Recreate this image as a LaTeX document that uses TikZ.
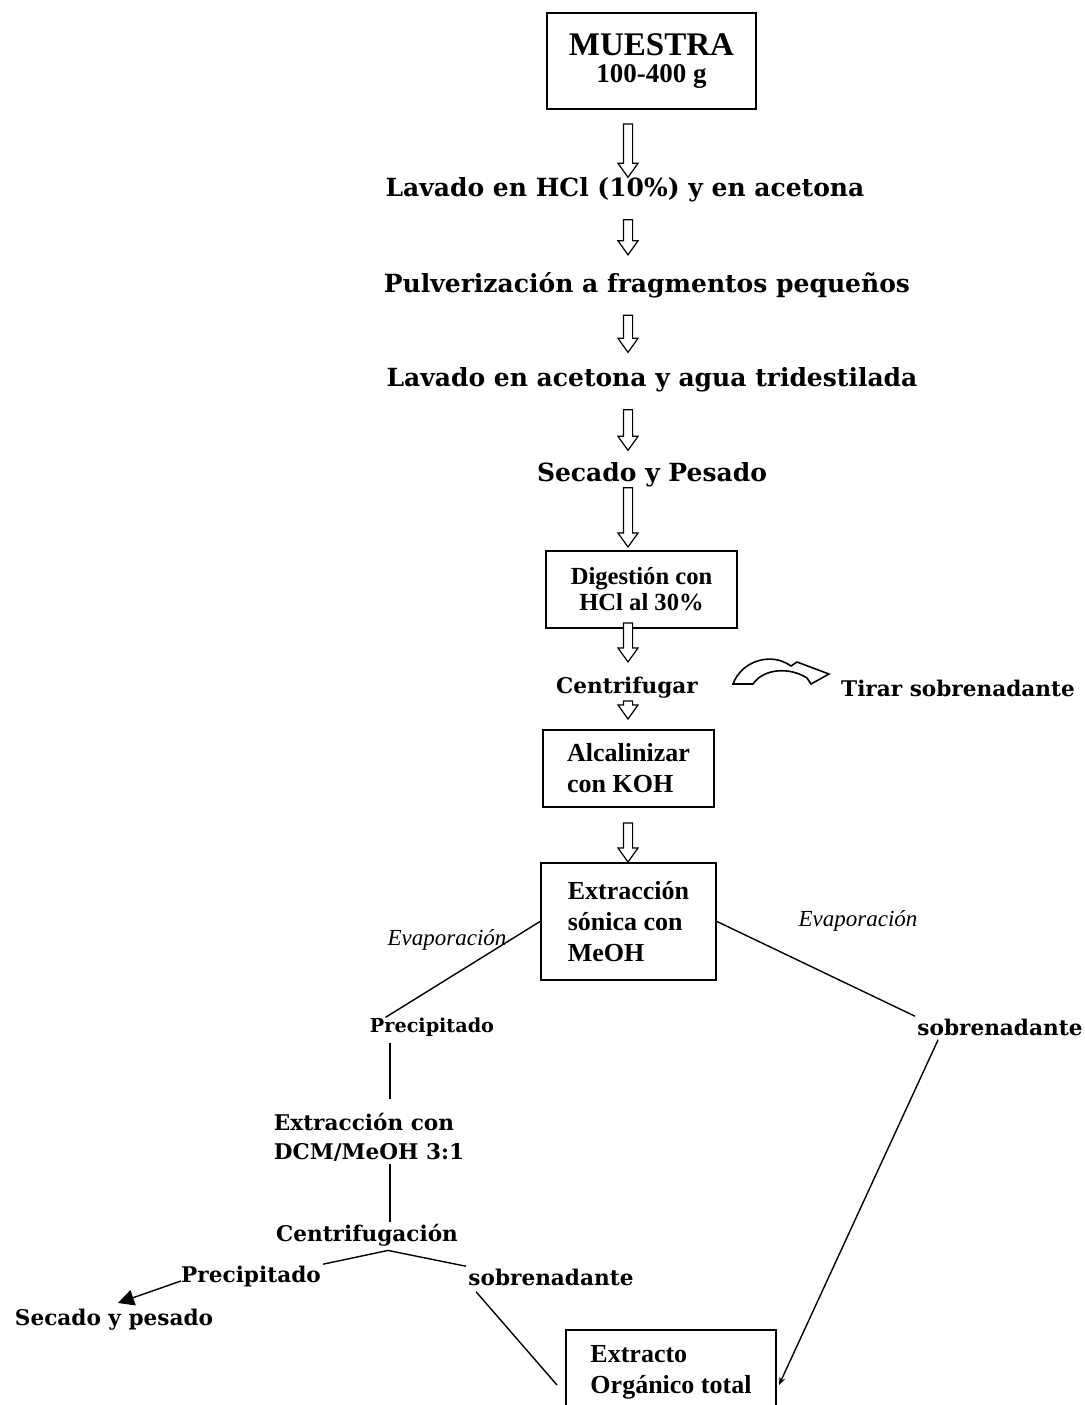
\documentclass[tikz,border=0pt]{standalone}
\usepackage{fontspec}
\setmainfont{Liberation Serif}
\newfontfamily\stepfont{DejaVu Serif}
\usetikzlibrary{calc,arrows.meta}

\tikzset{
  stage/.style={font=\stepfont\bfseries\fontsize{10.8}{14.5}\selectfont, inner sep=1pt, align=center},
  bigstage/.style={stage, font=\stepfont\bfseries\fontsize{12.5}{15}\selectfont},
  smallstage/.style={stage, font=\stepfont\bfseries\fontsize{9.6}{12}\selectfont},
  procbox/.style={draw, line width=1pt, font=\bfseries\fontsize{13}{15.5}\selectfont, align=left, inner sep=2pt},
  evap/.style={font=\itshape\fontsize{11.5}{13}\selectfont, inner sep=1pt},
  link/.style={line width=0.7pt},
  hollow/.style={draw, line width=0.6pt, fill=white, line join=miter},
}

% hollow block arrow down the main axis: from, to, gap at start, gap at end (px)
\newcommand{\blockarrow}[4]{%
  \path[hollow] let \p1=($(axis |- #1.south)+(0,#3)$), \p2=($(axis |- #2.north)-(0,#4)$) in
    (\x1-2.3pt,\y1) -- (\x1+2.3pt,\y1) -- (\x1+2.3pt,\y2+7pt) -- (\x1+5pt,\y2+7pt)
    -- (\x1,\y2) -- (\x1-5pt,\y2+7pt) -- (\x1-2.3pt,\y2+7pt) -- cycle;}

\begin{document}
\begin{tikzpicture}[x=0.5pt,y=-0.5pt]
  \useasboundingbox (0,0) rectangle (1085,1405);
  \coordinate (axis) at (628,0);
  \coordinate (trunk) at (390,0);

  % main column
  \node[procbox, align=center, minimum width=104.5pt, minimum height=48pt] (muestra) at (651.5,61)
    {{\fontsize{16.5}{18}\selectfont MUESTRA}\\[-2pt]{\fontsize{13.5}{15}\selectfont 100-400 g}};
  \node[bigstage] (lavhcl) at (625,190) {Lavado en HCl (10\%) y en acetona};
  \node[bigstage] (pulv) at (647,285) {Pulverización a fragmentos pequeños};
  \node[bigstage] (lavac) at (652,380) {Lavado en acetona y agua tridestilada};
  \node[bigstage] (secado) at (652,475) {Secado y Pesado};
  \node[procbox, align=center, minimum width=95.5pt, minimum height=38.5pt,
        font=\bfseries\fontsize{12.3}{13}\selectfont] (digest) at (641.5,589.5) {Digestión con\\HCl al 30\%};
  \node[stage] (centrif) at (627,688) {Centrifugar};
  \node[stage] (tirar) at (958,688) {Tirar sobrenadante};
  \node[procbox, minimum width=85.5pt, minimum height=38.5pt] (alcal) at (628.5,768.5) {Alcalinizar\\con KOH};
  \node[procbox, minimum width=87.5pt, minimum height=58.5pt] (sonic) at (628.5,921.5) {Extracción\\sónica con\\MeOH};

  % branches
  \node[evap] (evapl) at (447,940) {Evaporación};
  \node[evap] (evapr) at (858,921) {Evaporación};
  \node[smallstage] (precip1) at (432,1027) {Precipitado};
  \node[stage] (sobre1) at (1000,1027) {sobrenadante};
  \node[stage, align=left] (dcm) at (369,1137) {Extracción con\\DCM/MeOH 3:1};
  \node[stage] (centrifug) at (367,1235) {Centrifugación};
  \node[stage] (precip2) at (251,1277) {Precipitado};
  \node[stage] (sobre2) at (551,1277) {sobrenadante};
  \node[stage] (secado2) at (114,1320) {Secado y pesado};
  \node[procbox, minimum width=105pt, minimum height=42pt] (total) at (671,1372) {Extracto\\Orgánico total};

  \blockarrow{muestra}{lavhcl}{14}{-2}
  \blockarrow{lavhcl}{pulv}{15}{15}
  \blockarrow{pulv}{lavac}{15}{13}
  \blockarrow{lavac}{secado}{15}{10}
  \blockarrow{secado}{digest}{-2}{3}
  \blockarrow{digest}{centrif}{-6}{13}
  \blockarrow{centrif}{alcal}{0}{10}
  \blockarrow{alcal}{sonic}{15}{0}

  % discard arrow
  \path[hollow, line width=0.8pt] (733,684) .. controls (742,660) and (772,652) .. (791,666) -- (797,662)
    -- (829,674) -- (811,684) -- (807,678) .. controls (790,667) and (764,668) .. (753,684) -- cycle;

  \coordinate (fork) at ($(centrifug.south)+(21,2)$);
  \draw[link] (sonic.west) -- ($(precip1.north west)+(18,2)$);
  \draw[link] (sonic.east) -- (sobre1.north west);
  \draw[link] ($(trunk |- precip1.south)+(0,4)$) -- ($(trunk |- dcm.north)+(0,-11)$);
  \draw[link] (trunk |- dcm.south) -- (trunk |- centrifug.north);
  \draw[link] (precip2.north east) -- (fork) -- (sobre2.north west);
  \draw[link, -{Triangle[length=8pt,width=8pt]}] ($(precip2.west)+(2,4)$) -- ($(secado2.north)+(4,-4)$);
  \draw[link] ($(sobre2.south west)+(10,4)$) -- ($(total.west)+(-8,13)$);
  \draw[link, -{Stealth[length=4pt,width=3pt]}] ($(sobre1.south west)+(23,2)$) -- ($(total.east)+(2,13)$);
\end{tikzpicture}
\end{document}
